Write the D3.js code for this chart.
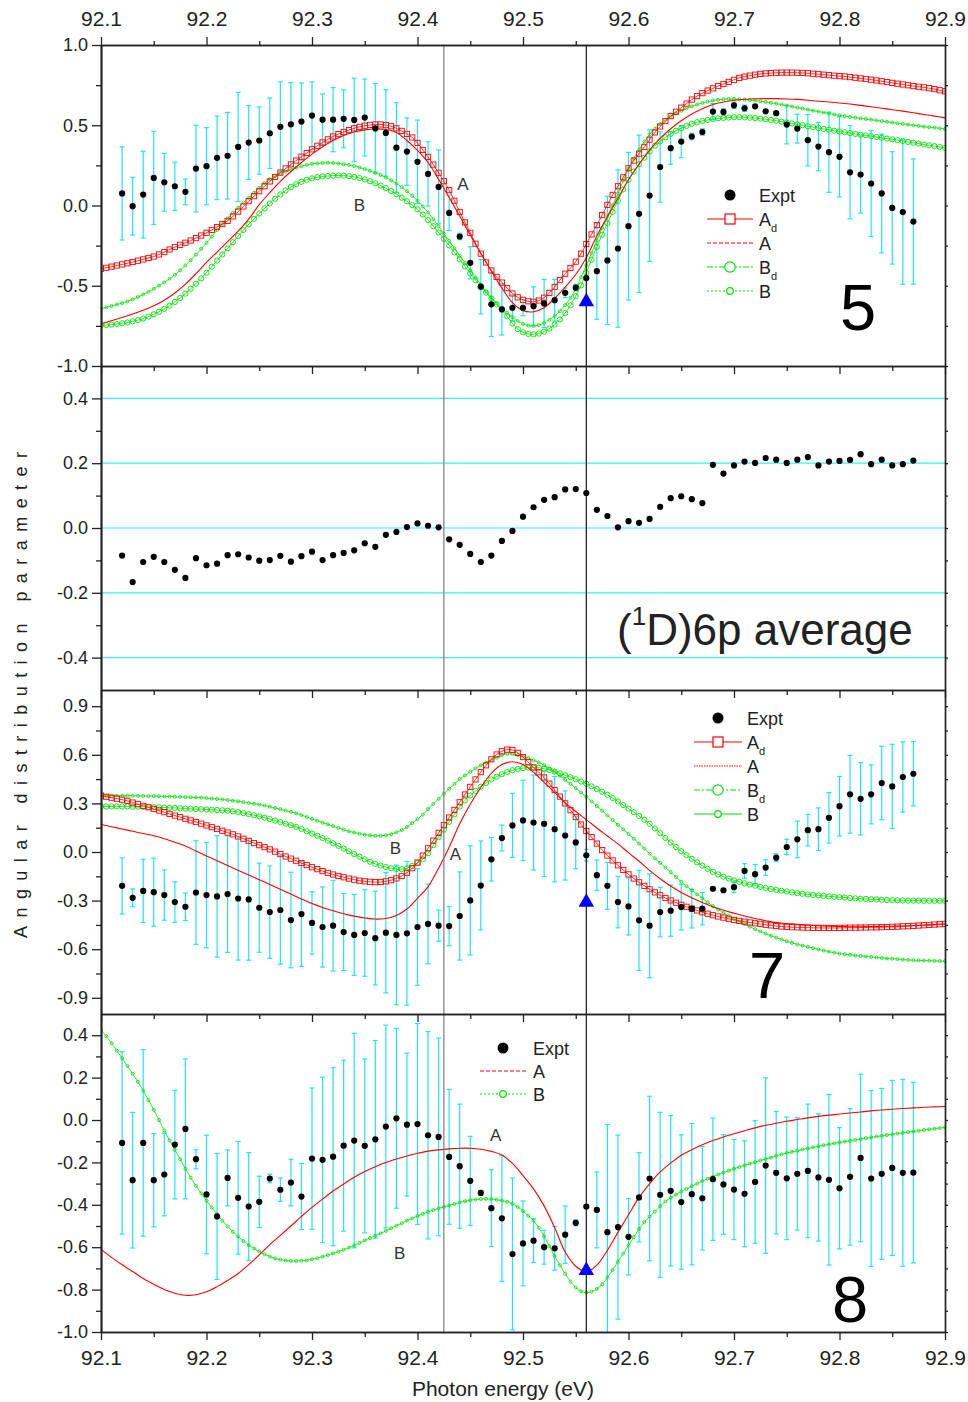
<!DOCTYPE html>
<html>
<head>
<meta charset="utf-8">
<script src="https://cdn.jsdelivr.net/npm/d3@7"></script>
<style>
  body { margin: 0; background: #fff; }
  svg { font-family: "Liberation Sans", Arial, sans-serif; }
</style>
</head>
<body>
<div id="chart"></div>
<script>
// ---------- data ----------
// experimental photon energies (eV)
const expE = [92.12,92.13,92.14,92.15,92.16,92.17,92.18,92.19,92.20,92.21,
  92.22,92.23,92.24,92.25,92.26,92.27,92.28,92.29,92.30,92.31,
  92.32,92.33,92.34,92.35,92.36,92.37,92.38,92.39,92.40,92.41,
  92.42,92.43,92.44,92.45,92.46,92.47,92.48,92.49,92.50,92.51,
  92.52,92.53,92.54,92.55,92.56,92.57,92.58,92.59,92.60,92.61,
  92.62,92.63,92.64,92.65,92.66,92.67,92.68,92.69,92.70,92.71,
  92.72,92.73,92.74,92.75,92.76,92.77,92.78,92.79,92.80,92.81,
  92.82,92.83,92.84,92.85,92.86,92.87];

// panel 5
const p1Expt = [0.075,-0.004,0.068,0.172,0.145,0.12,0.085,0.23,0.245,0.297,
  0.31,0.365,0.392,0.405,0.45,0.49,0.506,0.523,0.56,0.535,
  0.535,0.54,0.533,0.548,0.48,0.452,0.36,0.336,0.272,0.197,
  0.116,-0.046,-0.193,-0.357,-0.506,-0.616,-0.647,-0.637,-0.637,-0.627,
  -0.61,-0.59,-0.544,-0.512,-0.452,-0.409,-0.342,-0.268,-0.129,-0.052,
  0.062,0.24,0.357,0.398,0.43,0.458,0.585,0.583,0.624,0.606,
  0.618,0.587,0.575,0.504,0.479,0.407,0.367,0.332,0.303,0.207,
  0.193,0.137,0.075,-0.015,-0.041,-0.1];
const p1Err = [0.29,0.18,0.27,0.29,0.18,0.15,0.08,0.27,0.24,0.26,
  0.27,0.34,0.23,0.21,0.22,0.28,0.26,0.24,0.21,0.16,
  0.2,0.18,0.26,0.24,0.28,0.27,0.28,0.21,0.26,0.2,
  0.23,0.11,0.02,0.1,0.17,0.2,0.16,0.08,0.05,0.12,
  0.15,0.13,0.03,0.02,0.01,0.3,0.4,0.49,0.46,0.49,
  0.41,0.22,0.1,0.1,0.02,0.02,0.05,0.02,0.02,0.02,
  0.01,0.01,0.01,0.12,0.09,0.16,0.15,0.25,0.25,0.29,
  0.24,0.33,0.37,0.35,0.45,0.39];

// (1D)6p average
const p2Expt = [-0.085,-0.167,-0.105,-0.089,-0.105,-0.129,-0.154,-0.093,-0.115,-0.11,
  -0.084,-0.081,-0.091,-0.101,-0.099,-0.086,-0.104,-0.087,-0.073,-0.099,
  -0.084,-0.077,-0.069,-0.047,-0.058,-0.021,-0.012,0.003,0.014,0.007,
  0.002,-0.035,-0.052,-0.08,-0.105,-0.085,-0.04,-0.009,0.035,0.064,
  0.087,0.095,0.119,0.12,0.108,0.056,0.037,0.002,0.021,0.016,
  0.028,0.065,0.092,0.098,0.089,0.077,0.195,0.168,0.193,0.205,
  0.201,0.216,0.211,0.201,0.211,0.219,0.193,0.205,0.207,0.21,
  0.228,0.197,0.211,0.193,0.197,0.208];

// panel 7
const p3Expt = [-0.209,-0.283,-0.24,-0.248,-0.266,-0.309,-0.338,-0.25,-0.266,-0.274,
  -0.26,-0.287,-0.293,-0.344,-0.371,-0.358,-0.42,-0.383,-0.438,-0.463,
  -0.455,-0.494,-0.512,-0.5,-0.532,-0.498,-0.512,-0.502,-0.463,-0.444,
  -0.455,-0.457,-0.395,-0.299,-0.207,-0.045,0.086,0.164,0.195,0.182,
  0.174,0.141,0.102,0.059,-0.02,-0.143,-0.209,-0.309,-0.336,-0.422,
  -0.455,-0.371,-0.362,-0.34,-0.35,-0.35,-0.227,-0.236,-0.217,-0.117,
  -0.137,-0.096,-0.035,0.031,0.078,0.135,0.141,0.211,0.283,0.356,
  0.328,0.356,0.426,0.405,0.463,0.483];
const p3Err = [0.173,0.055,0.195,0.21,0.155,0.125,0.085,0.32,0.325,0.375,
  0.36,0.38,0.375,0.275,0.285,0.335,0.295,0.323,0.193,0.247,
  0.28,0.237,0.25,0.267,0.289,0.372,0.431,0.444,0.36,0.246,
  0.096,0.121,0.272,0.337,0.275,0.134,0.08,0.198,0.248,0.293,
  0.326,0.325,0.275,0.162,0.036,0.094,0.145,0.159,0.176,0.309,
  0.321,0.153,0.158,0.141,0.119,0.1,0.01,0.01,0.033,0.045,
  0.06,0.048,0.024,0.048,0.113,0.097,0.131,0.156,0.184,0.24,
  0.223,0.182,0.227,0.26,0.217,0.198];

// panel 8
const p4Expt = [-0.108,-0.284,-0.108,-0.284,-0.257,-0.116,-0.042,-0.185,-0.351,-0.455,
  -0.273,-0.367,-0.408,-0.386,-0.276,-0.329,-0.295,-0.361,-0.182,-0.188,
  -0.173,-0.121,-0.097,-0.122,-0.091,-0.031,0.008,-0.022,-0.019,-0.072,
  -0.08,-0.174,-0.218,-0.287,-0.344,-0.416,-0.464,-0.632,-0.582,-0.569,
  -0.6,-0.605,-0.541,-0.485,-0.408,-0.424,-0.529,-0.505,-0.551,-0.365,
  -0.276,-0.353,-0.334,-0.387,-0.35,-0.369,-0.279,-0.304,-0.328,-0.348,
  -0.292,-0.215,-0.249,-0.275,-0.254,-0.24,-0.271,-0.282,-0.322,-0.268,
  -0.179,-0.276,-0.254,-0.226,-0.249,-0.248];
const p4Err = [0.43,0.32,0.44,0.22,0.195,0.256,0.33,0.045,0.28,0.297,
  0.132,0.266,0.254,0.121,0.02,0.055,0.11,0.156,0.333,0.39,
  0.42,0.403,0.506,0.41,0.466,0.478,0.424,0.337,0.474,0.489,
  0.466,0.318,0.293,0.21,0.012,0.181,0.297,0.358,0.2,0.103,
  0.08,0.103,0.135,0.014,0.008,0.179,0.508,0.434,0.18,0.211,
  0.388,0.389,0.355,0.317,0.333,0.244,0.289,0.235,0.236,0.25,
  0.289,0.414,0.289,0.289,0.265,0.315,0.3,0.402,0.286,0.322,
  0.395,0.415,0.403,0.413,0.441,0.426];

// model curves with markers: 92.100 .. 92.900 every 0.005 eV (161 values)
const modelE = d3.range(161).map(i => +(92.1 + i * 0.005).toFixed(3));

const p1Ad = [-0.394,-0.388,-0.381,-0.374,-0.367,-0.360,-0.352,-0.344,-0.336,-0.327,
  -0.318,-0.305,-0.290,-0.274,-0.259,-0.245,-0.232,-0.218,-0.203,-0.187,
  -0.170,-0.152,-0.134,-0.116,-0.096,-0.068,-0.038,-0.006,0.027,0.058,
  0.089,0.120,0.150,0.178,0.205,0.231,0.256,0.280,0.304,0.327,
  0.350,0.372,0.393,0.412,0.430,0.445,0.458,0.470,0.481,0.490,
  0.497,0.502,0.505,0.505,0.501,0.494,0.481,0.465,0.446,0.424,
  0.390,0.346,0.303,0.255,0.204,0.152,0.096,0.030,-0.040,-0.105,
  -0.170,-0.238,-0.300,-0.355,-0.405,-0.445,-0.480,-0.515,-0.548,-0.572,
  -0.588,-0.597,-0.600,-0.592,-0.574,-0.545,-0.507,-0.465,-0.425,-0.389,
  -0.350,-0.300,-0.240,-0.180,-0.122,-0.060,0.004,0.066,0.120,0.175,
  0.232,0.280,0.323,0.365,0.410,0.455,0.492,0.526,0.557,0.584,
  0.610,0.635,0.660,0.682,0.700,0.716,0.730,0.744,0.757,0.770,
  0.783,0.795,0.803,0.809,0.815,0.820,0.823,0.825,0.827,0.828,
  0.828,0.828,0.827,0.826,0.824,0.821,0.818,0.815,0.812,0.809,
  0.806,0.804,0.800,0.796,0.792,0.788,0.784,0.779,0.774,0.769,
  0.764,0.759,0.754,0.749,0.744,0.740,0.736,0.731,0.725,0.718,
  0.712];
const p1Bd = [-0.747,-0.745,-0.742,-0.738,-0.734,-0.729,-0.722,-0.714,-0.704,-0.692,
  -0.678,-0.662,-0.644,-0.624,-0.601,-0.576,-0.549,-0.519,-0.487,-0.454,
  -0.419,-0.381,-0.343,-0.305,-0.267,-0.229,-0.191,-0.153,-0.117,-0.083,
  -0.050,-0.018,0.013,0.042,0.069,0.094,0.115,0.133,0.148,0.160,
  0.169,0.176,0.181,0.184,0.186,0.187,0.186,0.183,0.178,0.171,
  0.162,0.151,0.138,0.124,0.108,0.090,0.070,0.049,0.026,0.002,
  -0.024,-0.056,-0.091,-0.129,-0.168,-0.208,-0.249,-0.292,-0.336,-0.380,
  -0.423,-0.465,-0.505,-0.543,-0.579,-0.615,-0.650,-0.690,-0.735,-0.770,
  -0.790,-0.800,-0.803,-0.798,-0.786,-0.767,-0.742,-0.710,-0.670,-0.622,
  -0.565,-0.498,-0.420,-0.338,-0.258,-0.182,-0.110,-0.040,0.030,0.100,
  0.160,0.212,0.257,0.298,0.337,0.372,0.400,0.425,0.447,0.466,
  0.482,0.496,0.509,0.519,0.527,0.533,0.539,0.543,0.546,0.548,
  0.550,0.550,0.549,0.547,0.545,0.541,0.537,0.533,0.528,0.522,
  0.517,0.511,0.505,0.500,0.494,0.488,0.483,0.477,0.472,0.466,
  0.461,0.456,0.451,0.446,0.441,0.437,0.432,0.427,0.422,0.417,
  0.412,0.407,0.402,0.396,0.391,0.386,0.380,0.375,0.370,0.364,
  0.359];
const p1B = [-0.643,-0.635,-0.626,-0.617,-0.608,-0.598,-0.585,-0.570,-0.554,-0.538,
  -0.519,-0.499,-0.479,-0.456,-0.432,-0.404,-0.373,-0.341,-0.306,-0.270,
  -0.232,-0.193,-0.154,-0.116,-0.080,-0.046,-0.014,0.018,0.048,0.079,
  0.110,0.140,0.164,0.183,0.199,0.212,0.224,0.235,0.245,0.253,
  0.259,0.263,0.265,0.266,0.265,0.262,0.258,0.253,0.246,0.237,
  0.227,0.216,0.204,0.190,0.175,0.157,0.137,0.114,0.089,0.061,
  0.030,-0.005,-0.043,-0.085,-0.129,-0.175,-0.220,-0.266,-0.312,-0.358,
  -0.404,-0.450,-0.494,-0.536,-0.575,-0.610,-0.641,-0.668,-0.695,-0.720,
  -0.738,-0.748,-0.751,-0.745,-0.732,-0.712,-0.688,-0.658,-0.620,-0.575,
  -0.520,-0.447,-0.372,-0.296,-0.218,-0.140,-0.067,0.003,0.075,0.155,
  0.228,0.292,0.348,0.398,0.442,0.478,0.508,0.534,0.555,0.573,
  0.590,0.605,0.618,0.629,0.639,0.647,0.654,0.659,0.662,0.664,
  0.664,0.662,0.660,0.657,0.654,0.650,0.645,0.640,0.635,0.629,
  0.622,0.616,0.610,0.604,0.597,0.591,0.585,0.579,0.573,0.567,
  0.562,0.557,0.552,0.547,0.543,0.539,0.535,0.530,0.526,0.521,
  0.517,0.512,0.508,0.504,0.500,0.496,0.492,0.488,0.485,0.481,
  0.477];

const p3Ad = [0.348,0.341,0.335,0.329,0.323,0.316,0.305,0.295,0.285,0.276,
  0.266,0.256,0.246,0.235,0.225,0.215,0.205,0.195,0.185,0.175,
  0.164,0.153,0.142,0.131,0.120,0.109,0.096,0.082,0.069,0.055,
  0.042,0.030,0.016,0.002,-0.013,-0.028,-0.041,-0.054,-0.068,-0.081,
  -0.094,-0.106,-0.118,-0.129,-0.139,-0.148,-0.156,-0.164,-0.171,-0.177,
  -0.181,-0.184,-0.186,-0.185,-0.181,-0.174,-0.163,-0.148,-0.128,-0.100,
  -0.065,-0.022,0.023,0.070,0.118,0.166,0.213,0.260,0.307,0.355,
  0.402,0.448,0.493,0.535,0.572,0.602,0.622,0.632,0.630,0.612,
  0.586,0.555,0.522,0.492,0.460,0.422,0.382,0.342,0.300,0.258,
  0.216,0.170,0.130,0.092,0.052,0.012,-0.022,-0.052,-0.082,-0.111,
  -0.138,-0.164,-0.187,-0.209,-0.230,-0.249,-0.267,-0.284,-0.299,-0.313,
  -0.326,-0.338,-0.350,-0.361,-0.372,-0.381,-0.390,-0.398,-0.405,-0.412,
  -0.419,-0.425,-0.430,-0.435,-0.440,-0.444,-0.449,-0.453,-0.457,-0.460,
  -0.462,-0.464,-0.465,-0.466,-0.467,-0.468,-0.468,-0.469,-0.469,-0.469,
  -0.468,-0.468,-0.467,-0.467,-0.466,-0.466,-0.465,-0.465,-0.464,-0.463,
  -0.462,-0.461,-0.459,-0.458,-0.456,-0.454,-0.452,-0.450,-0.448,-0.446,
  -0.444];
const p3Bd = [0.281,0.281,0.281,0.281,0.281,0.281,0.280,0.280,0.279,0.278,
  0.277,0.276,0.275,0.273,0.272,0.270,0.268,0.267,0.265,0.264,
  0.262,0.261,0.259,0.257,0.255,0.251,0.246,0.240,0.234,0.227,
  0.220,0.212,0.203,0.194,0.185,0.175,0.165,0.155,0.142,0.128,
  0.114,0.100,0.086,0.070,0.054,0.038,0.021,0.004,-0.013,-0.029,
  -0.045,-0.060,-0.073,-0.084,-0.093,-0.100,-0.105,-0.106,-0.100,-0.086,
  -0.068,-0.045,-0.008,0.042,0.092,0.138,0.186,0.232,0.280,0.318,
  0.349,0.377,0.403,0.426,0.448,0.465,0.480,0.494,0.505,0.513,
  0.518,0.521,0.522,0.520,0.514,0.506,0.496,0.485,0.474,0.462,
  0.449,0.435,0.421,0.405,0.389,0.372,0.353,0.333,0.312,0.290,
  0.268,0.246,0.223,0.199,0.174,0.145,0.116,0.087,0.059,0.031,
  0.005,-0.019,-0.042,-0.064,-0.084,-0.104,-0.122,-0.138,-0.152,-0.164,
  -0.175,-0.184,-0.193,-0.201,-0.208,-0.215,-0.222,-0.229,-0.234,-0.239,
  -0.244,-0.249,-0.254,-0.258,-0.262,-0.265,-0.268,-0.271,-0.274,-0.276,
  -0.279,-0.281,-0.284,-0.286,-0.288,-0.290,-0.292,-0.293,-0.295,-0.296,
  -0.297,-0.298,-0.299,-0.300,-0.300,-0.300,-0.301,-0.301,-0.301,-0.301,
  -0.301];
const p3B = [0.348,0.348,0.348,0.348,0.348,0.348,0.347,0.347,0.346,0.345,
  0.345,0.344,0.343,0.342,0.341,0.340,0.339,0.338,0.337,0.335,
  0.333,0.330,0.327,0.324,0.321,0.317,0.313,0.308,0.303,0.298,
  0.293,0.287,0.280,0.272,0.264,0.256,0.248,0.239,0.228,0.216,
  0.204,0.193,0.181,0.171,0.160,0.149,0.138,0.128,0.120,0.113,
  0.107,0.103,0.100,0.100,0.103,0.110,0.121,0.135,0.154,0.178,
  0.203,0.231,0.265,0.297,0.328,0.360,0.390,0.420,0.450,0.473,
  0.495,0.516,0.535,0.552,0.567,0.582,0.597,0.606,0.604,0.598,
  0.590,0.580,0.567,0.552,0.536,0.518,0.495,0.470,0.445,0.420,
  0.394,0.368,0.341,0.312,0.284,0.255,0.226,0.197,0.168,0.140,
  0.111,0.082,0.052,0.021,-0.010,-0.039,-0.067,-0.096,-0.125,-0.154,
  -0.184,-0.211,-0.236,-0.261,-0.285,-0.310,-0.334,-0.356,-0.376,-0.395,
  -0.413,-0.429,-0.445,-0.461,-0.476,-0.490,-0.504,-0.517,-0.529,-0.540,
  -0.551,-0.561,-0.570,-0.578,-0.586,-0.594,-0.601,-0.608,-0.615,-0.622,
  -0.627,-0.631,-0.635,-0.639,-0.642,-0.645,-0.648,-0.651,-0.654,-0.657,
  -0.659,-0.661,-0.664,-0.666,-0.668,-0.669,-0.670,-0.671,-0.672,-0.673,
  -0.674];

const p4B = [0.425,0.395,0.362,0.327,0.291,0.255,0.218,0.180,0.139,0.094,
  0.048,0.000,-0.050,-0.096,-0.140,-0.185,-0.230,-0.272,-0.310,-0.346,
  -0.380,-0.413,-0.445,-0.475,-0.502,-0.527,-0.550,-0.571,-0.590,-0.606,
  -0.620,-0.633,-0.644,-0.653,-0.659,-0.663,-0.665,-0.665,-0.664,-0.662,
  -0.657,-0.652,-0.645,-0.637,-0.629,-0.621,-0.612,-0.602,-0.592,-0.580,
  -0.568,-0.557,-0.546,-0.535,-0.523,-0.511,-0.499,-0.487,-0.474,-0.464,
  -0.453,-0.443,-0.433,-0.425,-0.417,-0.410,-0.403,-0.396,-0.389,-0.383,
  -0.378,-0.375,-0.373,-0.372,-0.373,-0.376,-0.380,-0.386,-0.396,-0.410,
  -0.430,-0.452,-0.475,-0.508,-0.548,-0.595,-0.642,-0.685,-0.725,-0.762,
  -0.790,-0.808,-0.814,-0.810,-0.797,-0.775,-0.743,-0.707,-0.668,-0.630,
  -0.592,-0.553,-0.514,-0.481,-0.455,-0.432,-0.407,-0.384,-0.367,-0.352,
  -0.338,-0.325,-0.312,-0.300,-0.288,-0.277,-0.267,-0.257,-0.248,-0.239,
  -0.230,-0.222,-0.214,-0.206,-0.199,-0.191,-0.184,-0.177,-0.169,-0.162,
  -0.155,-0.150,-0.145,-0.139,-0.134,-0.129,-0.124,-0.119,-0.115,-0.110,
  -0.106,-0.102,-0.098,-0.094,-0.090,-0.086,-0.082,-0.078,-0.075,-0.071,
  -0.068,-0.064,-0.061,-0.057,-0.054,-0.051,-0.047,-0.044,-0.041,-0.038,
  -0.035];

// plain model lines (A): 92.10 .. 92.90 every 0.01 eV (81 values)
const lineE = d3.range(81).map(i => +(92.1 + i * 0.01).toFixed(2));
const p1A = [-0.735,-0.718,-0.698,-0.676,-0.652,-0.625,-0.590,-0.545,-0.490,-0.425,
  -0.355,-0.290,-0.225,-0.160,-0.085,0.005,0.080,0.150,0.212,0.268,
  0.320,0.366,0.405,0.436,0.458,0.471,0.477,0.474,0.455,0.405,
  0.343,0.268,0.163,0.050,-0.066,-0.183,-0.298,-0.408,-0.515,-0.605,
  -0.655,-0.662,-0.637,-0.578,-0.508,-0.430,-0.325,-0.190,-0.070,0.045,
  0.160,0.258,0.345,0.418,0.478,0.528,0.570,0.603,0.629,0.645,
  0.656,0.662,0.665,0.666,0.666,0.664,0.661,0.656,0.650,0.645,
  0.639,0.632,0.624,0.615,0.606,0.597,0.588,0.578,0.567,0.557,
  0.546];
const p3A = [0.170,0.156,0.142,0.128,0.114,0.100,0.082,0.060,0.037,0.006,
  -0.024,-0.054,-0.084,-0.113,-0.142,-0.171,-0.200,-0.230,-0.260,-0.290,
  -0.318,-0.342,-0.363,-0.381,-0.396,-0.407,-0.414,-0.410,-0.392,-0.352,
  -0.285,-0.215,-0.100,0.030,0.174,0.295,0.398,0.485,0.540,0.557,
  0.540,0.492,0.430,0.368,0.303,0.250,0.200,0.148,0.099,0.050,
  -0.004,-0.057,-0.113,-0.165,-0.210,-0.250,-0.283,-0.312,-0.338,-0.360,
  -0.378,-0.395,-0.410,-0.424,-0.436,-0.441,-0.447,-0.451,-0.455,-0.458,
  -0.460,-0.461,-0.461,-0.460,-0.459,-0.458,-0.457,-0.454,-0.451,-0.448,
  -0.444];
const p4A = [-0.610,-0.648,-0.683,-0.715,-0.748,-0.775,-0.799,-0.817,-0.827,-0.824,
  -0.810,-0.786,-0.757,-0.724,-0.682,-0.636,-0.588,-0.544,-0.500,-0.455,
  -0.412,-0.373,-0.335,-0.302,-0.270,-0.243,-0.220,-0.200,-0.184,-0.170,
  -0.157,-0.147,-0.141,-0.136,-0.133,-0.133,-0.138,-0.148,-0.165,-0.205,
  -0.262,-0.325,-0.405,-0.507,-0.623,-0.690,-0.716,-0.685,-0.615,-0.530,
  -0.447,-0.365,-0.301,-0.245,-0.203,-0.166,-0.140,-0.117,-0.097,-0.080,
  -0.065,-0.051,-0.037,-0.025,-0.015,-0.006,0.002,0.010,0.017,0.023,
  0.028,0.033,0.038,0.043,0.047,0.051,0.054,0.057,0.060,0.062,
  0.064];

// resonance markers (blue triangles) and reference lines
const markE = 92.56;
const markVals = [-0.6, null, -0.31, -0.71];
const refLines = [92.425, 92.56];

// axis ticks
const xMajor = [92.1,92.2,92.3,92.4,92.5,92.6,92.7,92.8,92.9];
const xMinor = [92.15,92.25,92.35,92.45,92.55,92.65,92.75,92.85];

// ---------- layout ----------
const W = 968, H = 1402;
const RED = "#ff0000", GREEN = "#00e000", CYAN = "#20e4f0", AXIS = "#222";

const svg = d3.select("#chart").append("svg")
    .attr("width", W)
    .attr("height", H);

const x = d3.scaleLinear().domain([92.1, 92.9]).range([101, 945]);

const panels = [
  {top: 45, bottom: 366, domain: [-1, 1],
   major: [-1, -0.5, 0, 0.5, 1], minor: [-0.75, -0.25, 0.25, 0.75]},
  {top: 366, bottom: 690, domain: [-0.5, 0.5],
   major: [-0.4, -0.2, 0, 0.2, 0.4], minor: [-0.3, -0.1, 0.1, 0.3]},
  {top: 690, bottom: 1014, domain: [-1, 1],
   major: [-0.9, -0.6, -0.3, 0, 0.3, 0.6, 0.9], minor: [-0.75, -0.45, -0.15, 0.15, 0.45, 0.75]},
  {top: 1014, bottom: 1332, domain: [-1, 0.5],
   major: [-1, -0.8, -0.6, -0.4, -0.2, 0, 0.2, 0.4], minor: [-0.9, -0.7, -0.5, -0.3, -0.1, 0.1, 0.3]}
];
panels.forEach((p, i) => {
  p.y = d3.scaleLinear().domain(p.domain).range([p.bottom, p.top]);
  svg.append("clipPath").attr("id", "clip" + i)
    .append("rect")
    .attr("x", 101).attr("y", p.top)
    .attr("width", 844).attr("height", p.bottom - p.top);
  p.g = svg.append("g").attr("clip-path", "url(#clip" + i + ")");
});

// gridlines in the average panel
panels[1].g.selectAll("line.grid")
  .data(panels[1].major)
  .join("line")
  .attr("class", "grid")
  .attr("x1", 101).attr("x2", 945)
  .attr("y1", d => panels[1].y(d)).attr("y2", d => panels[1].y(d))
  .attr("stroke", "#30f4f8").attr("stroke-width", 1.2);

// ---------- helpers ----------
function drawErrors(p, vals, errs) {
  const d = expE.map((e, i) => ({e: e, v: vals[i], s: errs[i]}));
  const g = p.g.append("g").attr("stroke", CYAN).attr("stroke-width", 1.2);
  g.selectAll("line.bar").data(d).join("line")
    .attr("class", "bar")
    .attr("x1", d => x(d.e)).attr("x2", d => x(d.e))
    .attr("y1", d => p.y(d.v - d.s)).attr("y2", d => p.y(d.v + d.s));
  g.selectAll("line.capt").data(d).join("line")
    .attr("class", "capt")
    .attr("x1", d => x(d.e) - 2.5).attr("x2", d => x(d.e) + 2.5)
    .attr("y1", d => p.y(d.v + d.s)).attr("y2", d => p.y(d.v + d.s));
  g.selectAll("line.capb").data(d).join("line")
    .attr("class", "capb")
    .attr("x1", d => x(d.e) - 2.5).attr("x2", d => x(d.e) + 2.5)
    .attr("y1", d => p.y(d.v - d.s)).attr("y2", d => p.y(d.v - d.s));
}

function drawExpt(p, vals) {
  p.g.append("g").selectAll("circle")
    .data(expE.map((e, i) => [e, vals[i]]))
    .join("circle")
    .attr("cx", d => x(d[0])).attr("cy", d => p.y(d[1]))
    .attr("r", 3.1).attr("fill", "#000");
}

function drawLine(p, energies, vals, color, width) {
  const line = d3.line()
    .x(d => x(d[0])).y(d => p.y(d[1]))
    .curve(d3.curveCatmullRom.alpha(0.5));
  p.g.append("path")
    .attr("d", line(energies.map((e, i) => [e, vals[i]])))
    .attr("fill", "none").attr("stroke", color).attr("stroke-width", width);
}

function drawMarkers(p, vals, kind) {
  const pts = modelE.map((e, i) => [e, vals[i]]);
  const color = kind === "square" ? RED : GREEN;
  drawLine(p, modelE, vals, color, 0.8);
  const g = p.g.append("g").attr("fill", "none").attr("stroke", color);
  if (kind === "square") {
    g.selectAll("rect").data(pts).join("rect")
      .attr("x", d => x(d[0]) - 2.6).attr("y", d => p.y(d[1]) - 2.6)
      .attr("width", 5.2).attr("height", 5.2)
      .attr("stroke-width", 0.9);
  } else {
    g.selectAll("circle").data(pts).join("circle")
      .attr("cx", d => x(d[0])).attr("cy", d => p.y(d[1]))
      .attr("r", kind === "big" ? 2.6 : 1.5)
      .attr("stroke-width", kind === "big" ? 0.9 : 0.8);
  }
}

// ---------- panel 5 ----------
drawErrors(panels[0], p1Expt, p1Err);
drawMarkers(panels[0], p1Bd, "big");
drawMarkers(panels[0], p1B, "small");
drawMarkers(panels[0], p1Ad, "square");
drawLine(panels[0], lineE, p1A, RED, 1.1);

// ---------- panel 7 ----------
drawErrors(panels[2], p3Expt, p3Err);
drawMarkers(panels[2], p3Bd, "big");
drawMarkers(panels[2], p3B, "small");
drawMarkers(panels[2], p3Ad, "square");
drawLine(panels[2], lineE, p3A, RED, 1.1);

// ---------- panel 8 ----------
drawErrors(panels[3], p4Expt, p4Err);
drawMarkers(panels[3], p4B, "small");
drawLine(panels[3], lineE, p4A, RED, 1.1);

// reference lines through all panels
svg.selectAll("line.ref")
  .data(refLines)
  .join("line")
  .attr("class", "ref")
  .attr("x1", d => x(d)).attr("x2", d => x(d))
  .attr("y1", 45).attr("y2", 1332)
  .attr("stroke", (d, i) => i === 0 ? "#7a7a7a" : "#111")
  .attr("stroke-width", 1.2);

drawExpt(panels[0], p1Expt);
drawExpt(panels[1], p2Expt);
drawExpt(panels[2], p3Expt);
drawExpt(panels[3], p4Expt);

// blue triangles
panels.forEach((p, i) => {
  if (markVals[i] === null) return;
  svg.append("path")
    .attr("d", d3.symbol().type(d3.symbolTriangle).size(105)())
    .attr("transform", `translate(${x(markE)},${p.y(markVals[i])})`)
    .attr("fill", "#0000ff");
});

// ---------- axes ----------
const fmt = d => d.toFixed(1);

function styleAxis(sel, fontSize) {
  sel.select(".domain").attr("stroke", AXIS).attr("stroke-width", 1.7);
  sel.selectAll(".tick line").attr("stroke", AXIS).attr("stroke-width", 1.3);
  sel.selectAll("text")
    .attr("fill", "#222")
    .style("font-family", '"Liberation Sans", Arial, sans-serif')
    .style("font-size", fontSize + "px");
}

panels.forEach((p, i) => {
  svg.append("g").attr("transform", "translate(101,0)")
    .call(d3.axisLeft(p.y).tickValues(p.major).tickSize(9).tickPadding(4).tickSizeOuter(0).tickFormat(fmt))
    .call(styleAxis, 18);
  svg.append("g").attr("transform", "translate(101,0)")
    .call(d3.axisLeft(p.y).tickValues(p.minor).tickSize(5).tickSizeOuter(0).tickFormat(""))
    .call(styleAxis, 18);
  svg.append("g").attr("transform", "translate(945,0)")
    .call(d3.axisRight(p.y).tickValues(p.major.concat(p.minor)).tickSize(3).tickSizeOuter(0).tickFormat(""))
    .call(styleAxis, 18);
  svg.append("g").attr("transform", `translate(0,${p.bottom})`)
    .call(d3.axisBottom(x).tickValues(xMajor).tickSize(8).tickPadding(10).tickSizeOuter(0)
      .tickFormat(i === 3 ? fmt : ""))
    .call(styleAxis, 21);
  svg.append("g").attr("transform", `translate(0,${p.bottom})`)
    .call(d3.axisBottom(x).tickValues(xMinor).tickSize(5).tickSizeOuter(0).tickFormat(""))
    .call(styleAxis, 21);
});

svg.append("g").attr("transform", "translate(0,45)")
  .call(d3.axisTop(x).tickValues(xMajor).tickSize(8).tickPadding(11).tickSizeOuter(0).tickFormat(fmt))
  .call(styleAxis, 21);
svg.append("g").attr("transform", "translate(0,45)")
  .call(d3.axisTop(x).tickValues(xMinor).tickSize(4).tickSizeOuter(0).tickFormat(""))
  .call(styleAxis, 21);

// axis titles
svg.append("text")
  .attr("transform", "translate(27,695) rotate(-90)")
  .attr("text-anchor", "middle")
  .attr("textLength", 486)
  .attr("lengthAdjust", "spacing")
  .attr("fill", "#222")
  .style("font-size", "18px")
  .text("Angular distribution parameter");

svg.append("text")
  .attr("x", 503).attr("y", 1396)
  .attr("text-anchor", "middle")
  .attr("fill", "#222")
  .style("font-size", "21px")
  .text("Photon energy (eV)");

// ---------- annotations ----------
const curveLabels = [
  {panel: 0, e: 92.443, v: 0.134, t: "A"},
  {panel: 0, e: 92.345, v: 0.003, t: "B"},
  {panel: 2, e: 92.379, v: 0.025, t: "B"},
  {panel: 2, e: 92.436, v: -0.012, t: "A"},
  {panel: 3, e: 92.474, v: -0.071, t: "A"},
  {panel: 3, e: 92.383, v: -0.627, t: "B"}
];
svg.selectAll("text.clab")
  .data(curveLabels)
  .join("text")
  .attr("class", "clab")
  .attr("x", d => x(d.e))
  .attr("y", d => panels[d.panel].y(d.v) + 6)
  .attr("text-anchor", "middle")
  .attr("fill", "#333")
  .style("font-size", "17px")
  .text(d => d.t);

const bigNums = [{t: "5", cx: 858, by: 330}, {t: "7", cx: 767, by: 998}, {t: "8", cx: 850, by: 1322}];
svg.selectAll("text.big")
  .data(bigNums)
  .join("text")
  .attr("class", "big")
  .attr("x", d => d.cx).attr("y", d => d.by)
  .attr("text-anchor", "middle")
  .attr("fill", "#000")
  .style("font-size", "65px")
  .text(d => d.t);

const avg = svg.append("text")
  .attr("x", 617).attr("y", 645)
  .attr("fill", "#222")
  .style("font-size", "44px");
avg.append("tspan").text("(");
avg.append("tspan").attr("dy", -20).style("font-size", "26px").text("1");
avg.append("tspan").attr("dy", 20).text("D)6p average");

// ---------- legends ----------
function drawLegend(entries, cx, x0, x1, tx, y0, step) {
  const g = svg.append("g");
  entries.forEach((en, i) => {
    const y = y0 + i * step;
    if (en.dash !== undefined) {
      g.append("line")
        .attr("x1", x0).attr("x2", x1).attr("y1", y).attr("y2", y)
        .attr("stroke", en.color).attr("stroke-width", 1.2)
        .attr("stroke-dasharray", en.dash);
    }
    if (en.mark === "dot") {
      g.append("circle").attr("cx", cx).attr("cy", y).attr("r", 5.5).attr("fill", "#000");
    } else if (en.mark === "square") {
      g.append("rect").attr("x", cx - 5).attr("y", y - 5).attr("width", 10).attr("height", 10)
        .attr("fill", "#fff").attr("stroke", en.color).attr("stroke-width", 1.2);
    } else if (en.mark === "big" || en.mark === "small") {
      g.append("circle").attr("cx", cx).attr("cy", y).attr("r", en.mark === "big" ? 5.2 : 3.3)
        .attr("fill", "#fff").attr("stroke", en.color).attr("stroke-width", 1.2);
    }
    const t = g.append("text").attr("x", tx).attr("y", y + 7)
      .attr("fill", "#222").style("font-size", "18px");
    t.append("tspan").text(en.label);
    if (en.sub) t.append("tspan").attr("dy", 6).style("font-size", "11px").text(en.sub);
  });
}

const legend5 = [
  {label: "Expt", mark: "dot"},
  {label: "A", sub: "d", mark: "square", color: RED, dash: "none"},
  {label: "A", color: RED, dash: "4,2"},
  {label: "B", sub: "d", mark: "big", color: GREEN, dash: "6,2,2,2"},
  {label: "B", mark: "small", color: GREEN, dash: "2,2"}
];
const legend7 = [
  {label: "Expt", mark: "dot"},
  {label: "A", sub: "d", mark: "square", color: RED, dash: "none"},
  {label: "A", color: RED, dash: "1.5,1"},
  {label: "B", sub: "d", mark: "big", color: GREEN, dash: "6,2,2,2"},
  {label: "B", mark: "small", color: GREEN, dash: "none"}
];
const legend8 = [
  {label: "Expt", mark: "dot"},
  {label: "A", color: RED, dash: "4,2"},
  {label: "B", mark: "small", color: GREEN, dash: "2,2"}
];
drawLegend(legend5, 730, 707, 753, 759, 195, 24);
drawLegend(legend7, 718, 694, 742, 747, 718, 24);
drawLegend(legend8, 503, 480, 527, 533, 1048, 23);
</script>
</body>
</html>
